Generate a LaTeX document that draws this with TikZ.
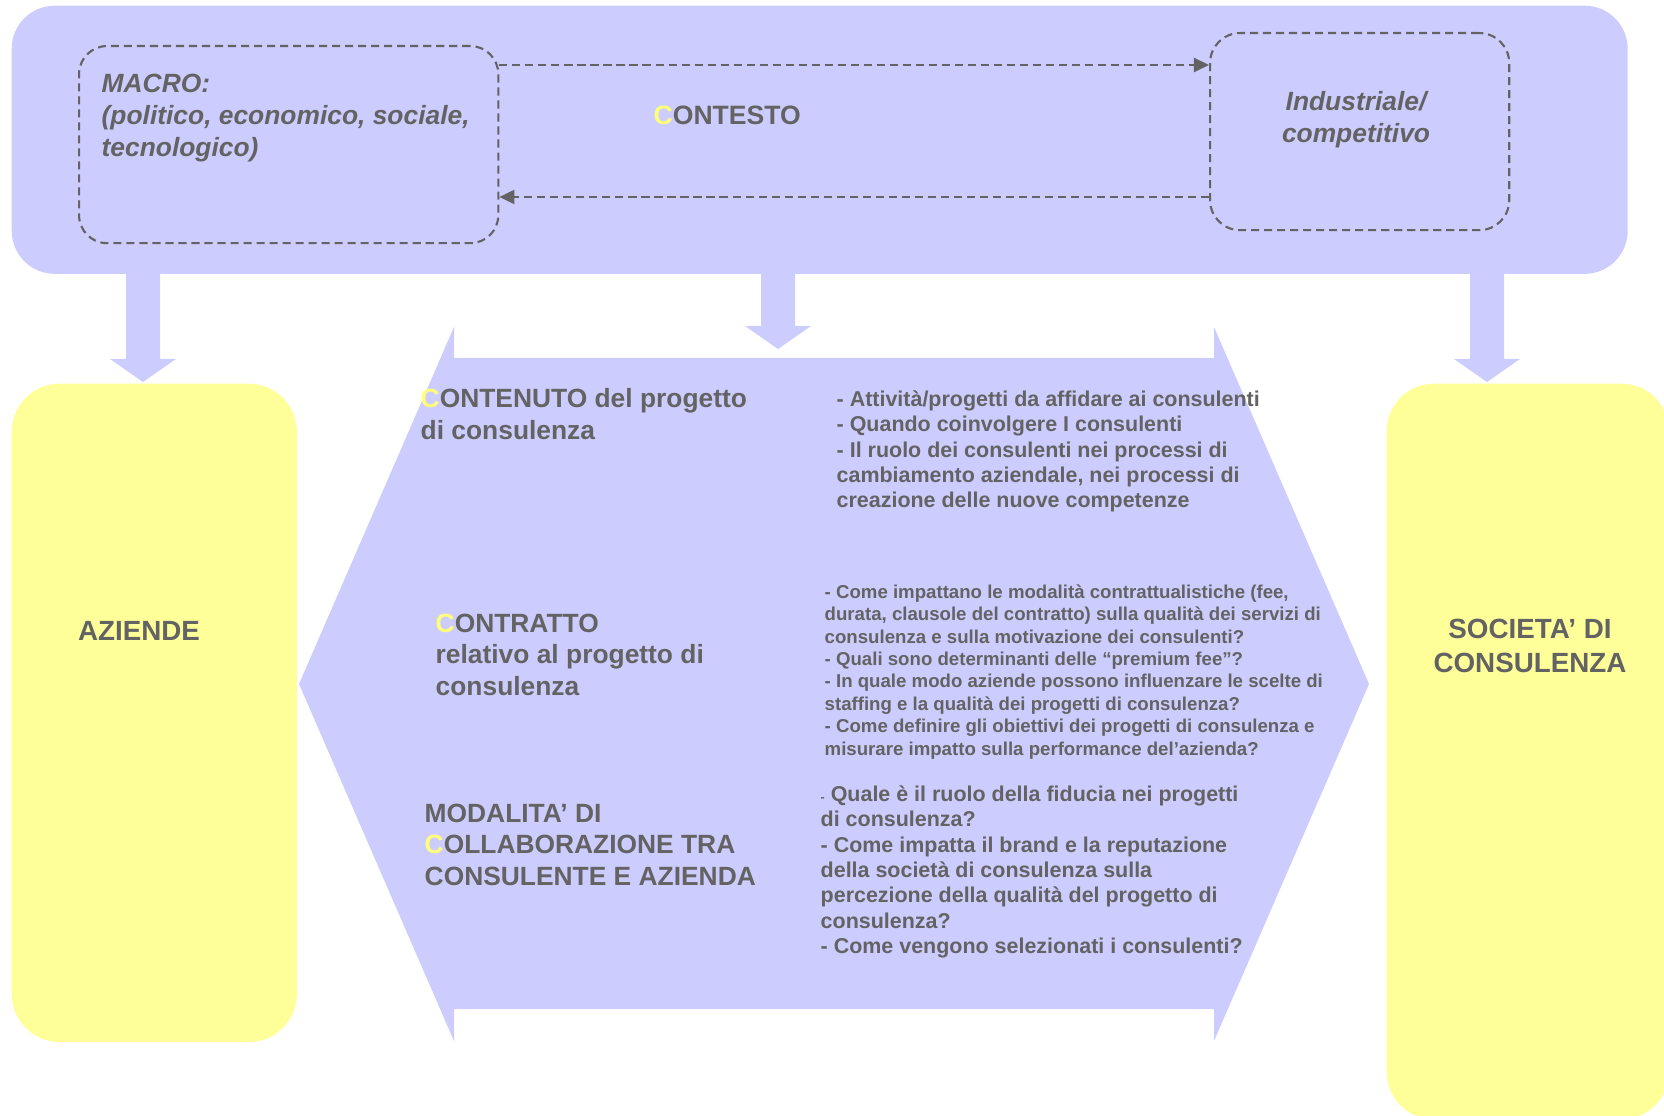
\documentclass[tikz,border=0pt]{standalone}
\usepackage{fontspec}
\setmainfont{Liberation Sans}
\usepackage{tikz}
\usetikzlibrary{arrows.meta,calc,positioning}
\definecolor{bandblue}{HTML}{CCCCFF}
\definecolor{boxyellow}{HTML}{FFFF99}
\definecolor{hlyellow}{HTML}{FFFF7A}
\definecolor{txtgray}{HTML}{636363}
\tikzstyle{panel} = [rectangle,fill=bandblue,draw=none,inner sep=0pt,anchor=north west]
\tikzstyle{sidebox} = [rectangle,fill=boxyellow,draw=none,inner sep=0pt,anchor=north west,rounded corners=4.8mm]
\tikzstyle{dashbox} = [rectangle,draw=txtgray,line width=0.6pt,dash pattern=on 2.3pt off 1.4pt,inner sep=0pt,anchor=north west,rounded corners=2.8mm]
\tikzstyle{flow} = [draw=txtgray,line width=0.6pt,dash pattern=on 2.3pt off 1.4pt,-{Triangle[length=4.3pt,width=4pt]}]
\tikzstyle{headtxt} = [text=txtgray,inner sep=0pt,anchor=north west,align=left,font=\fontsize{7.5}{8.95}\selectfont\bfseries]
\tikzstyle{bulltxt} = [text=txtgray,inner sep=0pt,anchor=north west,align=left,font=\fontsize{6.1}{7.2}\selectfont\bfseries]
\tikzstyle{smalltxt} = [text=txtgray,inner sep=0pt,anchor=north west,align=left,font=\fontsize{5.3}{6.37}\selectfont\bfseries]
\tikzstyle{sidetxt} = [text=txtgray,inner sep=0pt,align=center,font=\fontsize{7.9}{9.7}\selectfont\bfseries]
\newcommand{\hlc}[1]{\textcolor{hlyellow}{#1}}
\newcommand{\fatarrow}[2]{%
  \fill[bandblue] ($(#1)+(-17,-4)$) -- ($(#2)+(-17,-23)$) -- ($(#2)+(-33,-23)$)
    -- (#2) -- ($(#2)+(33,-23)$) -- ($(#2)+(17,-23)$) -- ($(#1)+(17,-4)$) -- cycle;}
\begin{document}
\begin{tikzpicture}[x=0.01cm,y=-0.01cm]
  \useasboundingbox (0,0) rectangle (1664,1116);
  \clip (0,0) rectangle (1664,1116);
  % contesto
  \node[panel,rounded corners=4.3mm,minimum width=161.5mm,minimum height=26.8mm] (band) at (11,5) {};
  \node[dashbox,minimum width=41.9mm,minimum height=19.7mm] (macro) at (78,45) {};
  \node[dashbox,minimum width=29.9mm,minimum height=19.7mm,rounded corners=3mm] (indus) at (1209,32) {};
  \draw[flow] (macro.east |- 0,65) -- (indus.west |- 0,65);
  \draw[flow] (indus.west |- 0,197) -- (macro.east |- 0,197);
  \node[headtxt,font=\fontsize{7.5}{9.1}\selectfont\bfseries\itshape] (macrotxt) at (101,73)
    {MACRO:\\(politico, economico, sociale,\\tecnologico)};
  \node[headtxt,anchor=north,align=center,font=\fontsize{7.5}{9.1}\selectfont\bfseries\itshape] (industxt) at (1356,91)
    {Industriale/\\competitivo};
  \node[text=txtgray,inner sep=0pt,anchor=west,font=\fontsize{7.55}{9}\selectfont\bfseries] (contesto) at (653,115)
    {\hlc{C}ONTESTO};
  % attori
  \node[sidebox,minimum width=28.5mm,minimum height=65.8mm] (aziende) at (11,383) {};
  \node[sidebox,minimum width=28.2mm,minimum height=73.5mm,rounded corners=4.7mm] (societa) at (1386,383) {};
  \node[sidetxt] (azlabel) at (139,631) {AZIENDE};
  \node[sidetxt] (soclabel) at (1530,646) {SOCIETA’ DI\\CONSULENZA};
  % progetto
  \fill[bandblue] (299,684) -- (454,327) -- (454,358) -- (1214,358) -- (1214,327) -- (1369,684)
    -- (1214,1041) -- (1214,1009) -- (454,1009) -- (454,1041) -- cycle;
  \coordinate (tipaz) at (143,382);
  \coordinate (tipprog) at (778,349);
  \coordinate (tipsoc) at (1487,382);
  \fatarrow{band.south -| tipaz}{tipaz}
  \fatarrow{band.south -| tipprog}{tipprog}
  \fatarrow{band.south -| tipsoc}{tipsoc}
  \node[headtxt] (contenuto) at (420,388) {\hlc{C}ONTENUTO del progetto\\di consulenza};
  \node[bulltxt] (qcontenuto) at (836,390) {- Attività/progetti da affidare ai consulenti\\- Quando coinvolgere I consulenti\\- Il ruolo dei consulenti nei processi di\\cambiamento aziendale, nei processi di\\creazione delle nuove competenze};
  \node[headtxt] (contratto) at (435,613) {\hlc{C}ONTRATTO\\relativo al progetto di\\consulenza};
  \node[smalltxt] (qcontratto) at (824,584) {- Come impattano le modalità contrattualistiche (fee,\\durata, clausole del contratto) sulla qualità dei servizi di\\consulenza e sulla motivazione dei consulenti?\\- Quali sono determinanti delle “premium fee”?\\- In quale modo aziende possono influenzare le scelte di\\staffing e la qualità dei progetti di consulenza?\\- Come definire gli obiettivi dei progetti di consulenza e\\misurare impatto sulla performance del’azienda?};
  \node[headtxt] (modalita) at (424,803) {MODALITA’ DI\\\hlc{C}OLLABORAZIONE TRA\\CONSULENTE E AZIENDA};
  \node[bulltxt] (qmodalita) at (820,785) {{\fontsize{3.5}{4}\selectfont -} Quale è il ruolo della fiducia nei progetti\\di consulenza?\\- Come impatta il brand e la reputazione\\della società di consulenza sulla\\percezione della qualità del progetto di\\consulenza?\\- Come vengono selezionati i consulenti?};
\end{tikzpicture}
\end{document}
